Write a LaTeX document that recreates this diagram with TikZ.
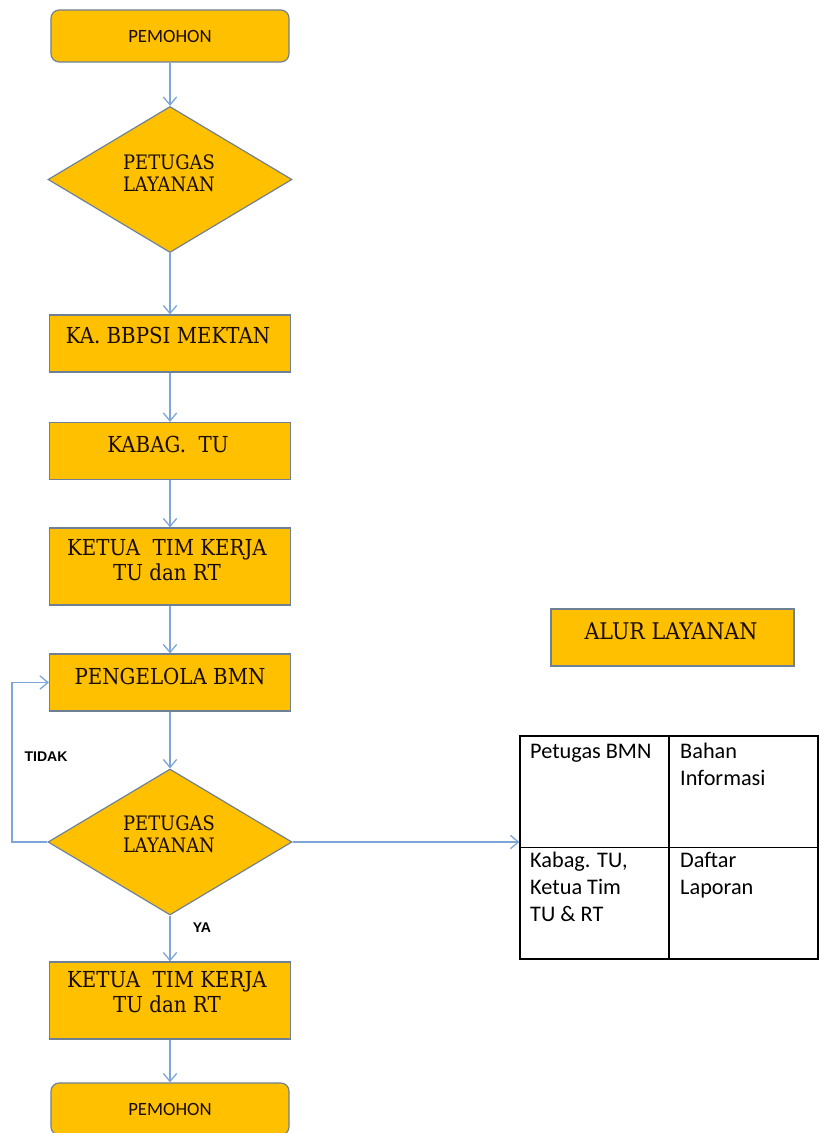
\documentclass[tikz,border=0pt]{standalone}
\usepackage{fontspec}
\usetikzlibrary{shapes.geometric, arrows.meta, positioning, calc}
\newfontfamily\hurufserif[FakeStretch=0.9]{DejaVu Serif}
\newfontfamily\hurufsans{Carlito}
\newfontfamily\hurufcap{Liberation Sans}
\definecolor{emas}{RGB}{255,192,0}
\definecolor{garis}{RGB}{110,128,150}
\definecolor{panah}{RGB}{125,165,215}
\definecolor{tinta}{RGB}{25,12,0}

\begin{document}
\begin{tikzpicture}[x=0.03cm,y=-0.03cm,
  kotak/.style={rectangle,draw=garis,fill=emas,line width=1pt,minimum width=7.23cm,minimum height=1.71cm,inner sep=0pt},
  ujung/.style={kotak,rounded corners=7pt,minimum width=7.14cm,minimum height=1.56cm,font=\hurufsans\fontsize{16}{18}\selectfont,text=tinta},
  putusan/.style={diamond,draw=garis,fill=emas,line width=1pt,minimum width=7.32cm,minimum height=4.38cm,inner sep=0pt},
  isi/.style={align=center,text=tinta,inner sep=0pt,font=\hurufserif\fontsize{18.8}{21.3}\selectfont},
  isikecil/.style={isi,font=\hurufserif\fontsize{17}{18.7}\selectfont},
  sel/.style={anchor=north west,align=left,inner sep=0pt,font=\hurufsans\fontsize{19}{23}\selectfont},
  tanda/.style={inner sep=0pt,font=\hurufcap\bfseries\fontsize{12}{14}\selectfont},
  alir/.style={-{Straight Barb[length=0.24cm,width=0.4cm]},draw=panah,line width=1.1pt}
]
  \useasboundingbox (0,0) rectangle (819,1133);

  \node[ujung]   (mohon)   at (170,36)    {PEMOHON};
  \node[putusan] (cek)     at (170,179.5) {};
  \node[isikecil](cekT)    at (169,173)   {PETUGAS\\LAYANAN};
  \node[kotak]   (kepala)  at (170,343.5) {};
  \node[isi]     (kepalaT) at (168,335)   {KA. BBPSI MEKTAN};
  \node[kotak]   (kabag)   at (170,451)   {};
  \node[isi]     (kabagT)  at (168,444)   {KABAG.\ \ TU};
  \node[kotak,minimum height=2.31cm] (ketua) at (170,566.5) {};
  \node[isi]     (ketuaT)  at (167,560.5) {KETUA\ \ TIM KERJA\\TU\ dan RT};
  \node[kotak]   (kelola)  at (170,682.5) {};
  \node[isi]     (kelolaT) at (170,676)   {PENGELOLA BMN};
  \node[putusan] (cek2)    at (170,842)   {};
  \node[isikecil](cek2T)   at (169,834)   {PETUGAS\\LAYANAN};
  \node[kotak,minimum height=2.31cm] (ketua2) at (170,1000.5) {};
  \node[isi]     (ketua2T) at (167,992.5) {KETUA\ \ TIM KERJA\\TU\ dan RT};
  \node[ujung]   (mohon2)  at (170,1109)  {PEMOHON};

  \node[kotak,minimum width=7.29cm] (alur) at (672.5,637.5) {};
  \node[isi,font=\hurufserif\fontsize{19.6}{21}\selectfont] (alurT) at (671,631) {ALUR LAYANAN};

  \node[draw,line width=1pt,minimum width=8.94cm,minimum height=6.69cm,inner sep=0pt] (tabel) at (669,847.5) {};
  \draw[line width=1pt] (tabel.north) -- (tabel.south);
  \draw[line width=1pt] (tabel.west) -- (tabel.east);
  \node[sel] (petugas) at (530,744) {Petugas BMN};
  \node[sel] (bahan)   at (680,743) {Bahan\\Informasi};
  \node[sel] (kabagTU) at (530,852) {Kabag. TU,\\Ketua Tim\\TU \& RT};
  \node[sel] (daftar)  at (680,852) {Daftar\\Laporan};

  \node[tanda] (tidak) at (46,757)  {TIDAK};
  \node[tanda] (ya)    at (202,928) {YA};

  \draw[alir] (mohon) -- (cek);
  \draw[alir] (cek) -- (kepala);
  \draw[alir] (kepala) -- (kabag);
  \draw[alir] (kabag) -- (ketua);
  \draw[alir] (ketua) -- (kelola);
  \draw[alir] (kelola) -- (cek2);
  \draw[alir] (cek2) -- (ketua2);
  \draw[alir] (ketua2) -- (mohon2);
  \coordinate (balik) at (12,842);
  \draw[alir] (cek2.west) -- (balik) |- (kelola.west);
  \draw[alir] (cek2.east) -- (cek2.east -| tabel.west);
\end{tikzpicture}
\end{document}
